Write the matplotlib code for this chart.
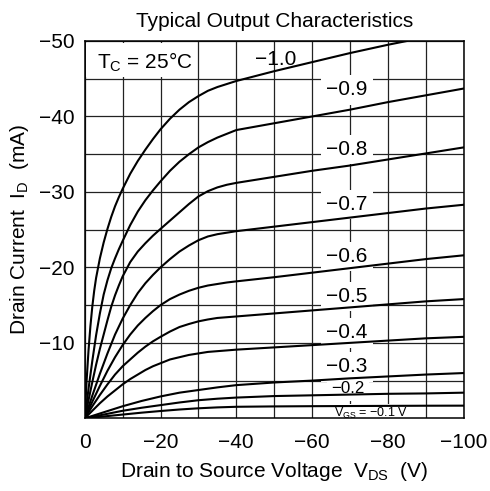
import matplotlib
matplotlib.use("Agg")
import matplotlib.pyplot as plt
from matplotlib.patches import Rectangle

plt.rcParams['font.family'] = ['Liberation Sans', 'DejaVu Sans']

# gate voltages and the curves (magnitudes, V and mA)
vgs_labels = ["−1.0", "−0.9", "−0.8", "−0.7", "−0.6", "−0.5", "−0.4", "−0.3", "−0.2"]

vds_10 = [0, 0.5, 1, 1.5, 2, 2.5, 3, 4, 5, 6, 7, 8, 9, 10, 12, 14, 16, 18, 20,
          22.5, 25, 27.5, 30, 32.5, 35, 37.5, 40, 50, 60, 70, 80, 85]
id_10 = [0, 5, 9, 12.2, 14.8, 16.9, 18.6, 21.2, 23.3, 25.1, 26.7, 28.1, 29.3, 30.4,
         32.4, 34.1, 35.6, 37.0, 38.3, 39.7, 40.9, 41.9, 42.7, 43.4, 43.9, 44.3, 44.7,
         46.0, 47.2, 48.4, 49.5, 50]

vds_09 = [0, 1, 2, 3, 4, 5, 6, 7, 8, 9, 10, 12, 14, 16, 18, 20, 22.5, 25, 27.5, 30,
          32.5, 35, 37.5, 40, 50, 60, 70, 80, 90, 100]
id_09 = [0, 3.9, 7.6, 11.0, 13.9, 16.4, 18.3, 19.9, 21.2, 22.4, 23.5, 25.6, 27.4, 28.9,
         30.2, 31.4, 32.8, 34.0, 35.0, 35.9, 36.6, 37.2, 37.7, 38.2, 39.1, 40.0, 40.9,
         41.9, 42.8, 43.7]

vds_08 = [0, 1, 2, 3, 4, 5, 6, 7, 8, 9, 10, 12, 14, 16, 18, 20, 22.5, 25, 27.5, 30,
          32.5, 35, 37.5, 40, 50, 60, 70, 80, 90, 100]
id_08 = [0, 2.4, 4.8, 7.1, 9.2, 11.1, 13.0, 14.8, 16.3, 17.6, 18.8, 20.7, 22.1, 23.2,
         24.2, 25.1, 26.2, 27.3, 28.4, 29.4, 30.1, 30.6, 30.95, 31.2, 32.0, 32.8, 33.5,
         34.3, 35.1, 35.9]

vds_07 = [0, 2, 4, 6, 8, 10, 12, 14, 16, 18, 20, 22.5, 25, 27.5, 30, 32.5, 35, 37.5,
          40, 50, 60, 70, 80, 90, 100]
id_07 = [0, 3.0, 5.9, 8.6, 11.1, 13.2, 15.0, 16.6, 17.9, 19.0, 20.0, 21.1, 22.1, 22.9,
         23.6, 24.1, 24.4, 24.6, 24.8, 25.4, 26.0, 26.6, 27.2, 27.8, 28.3]

vds_06 = [0, 2, 4, 6, 8, 10, 12, 14, 16, 18, 20, 22.5, 25, 27.5, 30, 32.5, 35, 37.5,
          40, 50, 60, 70, 80, 90, 100]
id_06 = [0, 2.2, 4.3, 6.3, 8.1, 9.7, 11.1, 12.3, 13.3, 14.2, 15.0, 15.8, 16.4, 16.9,
         17.3, 17.6, 17.8, 18.0, 18.15, 18.7, 19.3, 19.9, 20.5, 21.1, 21.6]

vds_05 = [0, 2, 4, 6, 8, 10, 12, 14, 16, 18, 20, 22.5, 25, 27.5, 30, 32.5, 35, 37.5,
          40, 50, 60, 70, 80, 90, 100]
id_05 = [0, 1.6, 3.1, 4.5, 5.8, 6.9, 7.8, 8.7, 9.5, 10.2, 10.8, 11.5, 12.1, 12.5,
         12.85, 13.1, 13.3, 13.4, 13.5, 13.9, 14.3, 14.7, 15.1, 15.5, 15.8]

vds_04 = [0, 2, 4, 6, 8, 10, 12, 14, 16, 18, 20, 22.5, 25, 27.5, 30, 32.5, 35, 37.5,
          40, 50, 60, 70, 80, 90, 100]
id_04 = [0, 1.0, 2.0, 2.9, 3.7, 4.5, 5.2, 5.8, 6.4, 6.9, 7.3, 7.8, 8.1, 8.4, 8.6,
         8.8, 8.9, 9.0, 9.1, 9.4, 9.7, 10.0, 10.3, 10.6, 10.8]

vds_03 = [0, 5, 10, 15, 20, 25, 30, 35, 40, 50, 60, 70, 80, 90, 100]
id_03 = [0, 0.8, 1.6, 2.3, 2.9, 3.4, 3.75, 4.1, 4.4, 4.75, 5.0, 5.3, 5.55, 5.8, 6.0]

vds_02 = [0, 5, 10, 15, 20, 25, 30, 35, 40, 50, 60, 70, 80, 90, 100]
id_02 = [0, 0.5, 1.0, 1.4, 1.75, 2.1, 2.4, 2.6, 2.75, 2.95, 3.05, 3.15, 3.25, 3.3, 3.4]

vds_01 = [0, 5, 10, 15, 20, 25, 30, 35, 40, 50, 60, 70, 80, 90, 100]
id_01 = [0, 0.25, 0.5, 0.75, 0.97, 1.17, 1.33, 1.45, 1.53, 1.58, 1.61, 1.63, 1.65, 1.67, 1.68]

curves = [(vds_10, id_10), (vds_09, id_09), (vds_08, id_08), (vds_07, id_07),
          (vds_06, id_06), (vds_05, id_05), (vds_04, id_04), (vds_03, id_03),
          (vds_02, id_02), (vds_01, id_01)]

# label anchor points (V, mA magnitudes, baseline)
label_v = [50.5, 69.2, 69.2, 69.2, 69.2, 69.2, 69.2, 69.2, 69.5]
label_i = [46.8, 42.8, 34.9, 27.6, 20.7, 15.4, 10.6, 6.1, 3.3]

fig = plt.figure(figsize=(4.9, 4.91), dpi=100)
ax = fig.add_axes([0.1729, 0.148, 0.7734, 0.7685])

for v, i in curves:
    ax.plot([-x for x in v], [-y for y in i], color='black', lw=1.5, zorder=3,
            solid_joinstyle='round')

ax.set_xlim(0, -100)
ax.set_ylim(0, -50)
ax.set_xticks([0, -20, -40, -60, -80, -100])
ax.set_xticks([-10, -30, -50, -70, -90], minor=True)
ax.set_yticks([-10, -20, -30, -40, -50])
ax.set_yticks([-5, -15, -25, -35, -45], minor=True)
ax.grid(True, which='both', color='#222222', lw=0.9)
ax.set_axisbelow(True)
ax.tick_params(which='both', length=0, labelsize=15)
ax.tick_params(axis='x', pad=10.4)
ax.tick_params(axis='y', pad=7)
for s in ax.spines.values():
    s.set_linewidth(1.1)
    s.set_zorder(4)

# white box behind T_C label
ax.add_patch(Rectangle((-0.3, -45.2), -29.4, -4.6, facecolor='white',
                       edgecolor='none', zorder=1.5))
ax.text(-3.2, -46.4, r"T$_\mathregular{C}$ = 25°C", fontsize=15, ha='left',
        va='baseline', zorder=2)

for k, lab in enumerate(vgs_labels):
    fs = 12.2 if lab == "−0.2" else 15
    bb = None if k == 0 else dict(boxstyle='square,pad=0.25', fc='white', ec='none')
    ax.text(-label_v[k], -label_i[k], lab, fontsize=fs, ha='center', va='baseline',
            bbox=bb, zorder=2)

ax.text(-75.6, -0.22, r"V$_\mathregular{GS}$ = −0.1 V", fontsize=9, ha='center',
        va='baseline', bbox=dict(boxstyle='square,pad=0.15', fc='white', ec='none'),
        zorder=2)

ax.set_title("Typical Output Characteristics", fontsize=15, pad=10)
ax.set_xlabel(r"Drain to Source Voltage  V$_\mathregular{DS}$  (V)", fontsize=15, labelpad=6)
ax.set_ylabel(r"Drain Current  I$_\mathregular{D}$  (mA)", fontsize=15, labelpad=6)

fig.savefig("out.png", dpi=100)
